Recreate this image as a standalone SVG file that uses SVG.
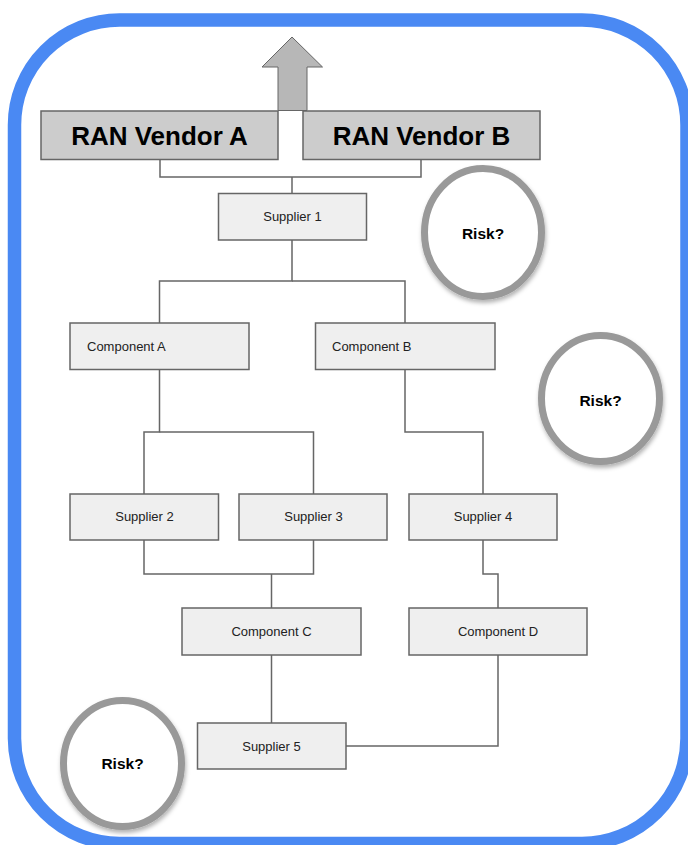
<svg xmlns="http://www.w3.org/2000/svg" width="688" height="845" viewBox="0 0 688 845">
<defs>
<style>
.box{fill:#efefef;stroke:#666666;stroke-width:1.5}
.ran{fill:#cccccc;stroke:#666666;stroke-width:1.5}
.lbl{font-family:"Liberation Sans",Arial,sans-serif;font-size:13px;fill:#222222}
.big{font-family:"Liberation Sans",Arial,sans-serif;font-size:26px;font-weight:bold;fill:#000000}
.risk{font-family:"Liberation Sans",Arial,sans-serif;font-size:15.5px;font-weight:bold;fill:#000000}
.ring{fill:#ffffff;stroke:#999999;stroke-width:7;filter:url(#sh)}
.conn{fill:none;stroke:#666666;stroke-width:1.5}
</style>
<filter id="sh" x="-20%" y="-20%" width="140%" height="140%">
<feDropShadow dx="1" dy="3" stdDeviation="2" flood-color="#000000" flood-opacity="0.3"/>
</filter>
</defs>
<rect x="14.5" y="20" width="672.5" height="823.5" rx="105" ry="105" fill="#ffffff" stroke="#4a89f3" stroke-width="13.5"/>
<g id="connectors">
<path class="conn" d="M160,160 V177 H421 V160"/>
<path class="conn" d="M292,177 V193"/>
<path class="conn" d="M292,240 V281 H159.5 V323"/>
<path class="conn" d="M292,281 H405 V323"/>
<path class="conn" d="M159.5,369 V432 H144 V494"/>
<path class="conn" d="M159.5,432 H313.5 V494"/>
<path class="conn" d="M405,369 V432 H483 V494"/>
<path class="conn" d="M144,540 V574 H313.5 V540"/>
<path class="conn" d="M271.5,574 V608"/>
<path class="conn" d="M483,540 V574 H498 V608"/>
<path class="conn" d="M271.5,655 V723"/>
<path class="conn" d="M498,655 V746 H346"/>
</g>
<g id="arrow">
<path d="M292,37 L322.5,67 H307 V110.5 H278 V67 H262 Z" fill="#b7b7b7" stroke="#666666" stroke-width="1"/>
</g>
<g id="ran-vendor-a">
<rect class="ran" x="41" y="111" width="237" height="48.5"/>
<text class="big" x="159.5" y="145" text-anchor="middle">RAN Vendor A</text>
</g>
<g id="ran-vendor-b">
<rect class="ran" x="303" y="111" width="237" height="48.5"/>
<text class="big" x="421.5" y="145" text-anchor="middle">RAN Vendor B</text>
</g>
<g id="supplier-1">
<rect class="box" x="218.5" y="193.5" width="148" height="46.5"/>
<text class="lbl" x="292.5" y="221" text-anchor="middle">Supplier 1</text>
</g>
<g id="component-a">
<rect class="box" x="70" y="323" width="179" height="46.5"/>
<text class="lbl" x="87" y="350.5">Component A</text>
</g>
<g id="component-b">
<rect class="box" x="315.5" y="323" width="179.5" height="46.5"/>
<text class="lbl" x="332" y="350.5">Component B</text>
</g>
<g id="supplier-2">
<rect class="box" x="70" y="494" width="148.5" height="46"/>
<text class="lbl" x="144.5" y="521" text-anchor="middle">Supplier 2</text>
</g>
<g id="supplier-3">
<rect class="box" x="239" y="494" width="148" height="46"/>
<text class="lbl" x="313.5" y="521" text-anchor="middle">Supplier 3</text>
</g>
<g id="supplier-4">
<rect class="box" x="409" y="494" width="148" height="46"/>
<text class="lbl" x="483" y="521" text-anchor="middle">Supplier 4</text>
</g>
<g id="component-c">
<rect class="box" x="182" y="608" width="179" height="47"/>
<text class="lbl" x="271.5" y="636" text-anchor="middle">Component C</text>
</g>
<g id="component-d">
<rect class="box" x="409" y="608" width="178" height="47"/>
<text class="lbl" x="498" y="636" text-anchor="middle">Component D</text>
</g>
<g id="supplier-5">
<rect class="box" x="197.5" y="723" width="148.5" height="46"/>
<text class="lbl" x="271.5" y="751" text-anchor="middle">Supplier 5</text>
</g>
<g id="risk-1">
<ellipse class="ring" cx="483" cy="232.5" rx="58.5" ry="64"/>
<text class="risk" x="483" y="239" text-anchor="middle">Risk?</text>
</g>
<g id="risk-2">
<ellipse class="ring" cx="600.5" cy="398.5" rx="59" ry="63"/>
<text class="risk" x="600.5" y="405.5" text-anchor="middle">Risk?</text>
</g>
<g id="risk-3">
<ellipse class="ring" cx="122.5" cy="763.5" rx="59" ry="63"/>
<text class="risk" x="122.5" y="769" text-anchor="middle">Risk?</text>
</g>
</svg>
